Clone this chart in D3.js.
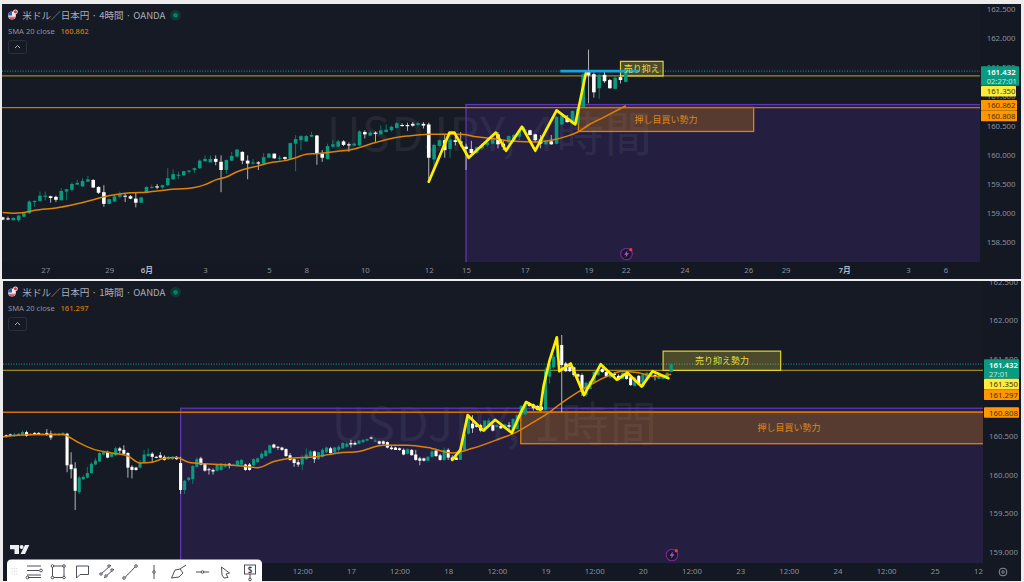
<!DOCTYPE html>
<html>
<head>
<meta charset="utf-8">
<script src="https://cdn.jsdelivr.net/npm/d3@7"></script>
<style>
html,body{margin:0;padding:0;background:#ececec;overflow:hidden}
svg{display:block}
text{font-family:"Noto Sans","Noto Sans CJK JP",sans-serif}
.jp{font-family:"Noto Sans CJK JP","Noto Sans",sans-serif}
</style>
</head>
<body>
<svg id="chart" width="1024" height="582"></svg>
<script>
// [open, high, low, close]
const h4Bars = [
[158.93,158.94,158.88,158.89],[158.91,158.94,158.88,158.90],[158.88,158.93,158.88,158.92],[158.88,158.97,158.85,158.96],[158.94,159.01,158.93,159.00],
[159.00,159.22,158.99,159.20],[159.19,159.22,159.11,159.21],[159.21,159.37,159.20,159.30],[159.28,159.37,159.22,159.30],[159.29,159.30,159.18,159.26],
[159.28,159.30,159.19,159.23],[159.22,159.43,159.22,159.38],[159.37,159.42,159.22,159.41],[159.40,159.53,159.37,159.50],[159.49,159.57,159.48,159.52],
[159.46,159.60,159.45,159.55],[159.54,159.64,159.53,159.58],[159.57,159.58,159.43,159.44],[159.45,159.46,159.33,159.35],[159.36,159.48,159.11,159.16],
[159.16,159.25,159.15,159.24],[159.20,159.31,159.19,159.29],[159.28,159.37,159.25,159.32],[159.30,159.34,159.19,159.29],[159.29,159.31,159.24,159.25],
[159.25,159.35,159.10,159.18],[159.18,159.28,159.18,159.27],[159.35,159.46,159.34,159.45],[159.44,159.49,159.42,159.45],[159.46,159.50,159.41,159.44],
[159.44,159.49,159.42,159.48],[159.48,159.77,159.46,159.60],[159.58,159.75,159.57,159.67],[159.64,159.71,159.58,159.66],[159.65,159.72,159.64,159.72],
[159.71,159.74,159.68,159.73],[159.74,159.78,159.69,159.77],[159.77,159.92,159.76,159.90],[159.89,159.99,159.88,159.93],[159.87,159.99,159.87,159.93],
[159.93,159.99,159.82,159.88],[159.88,159.99,159.36,159.74],[159.74,159.92,159.67,159.91],[159.90,160.05,159.89,159.98],[159.97,160.10,159.95,160.09],
[160.05,160.06,159.84,159.90],[159.90,159.99,159.58,159.85],[159.85,159.93,159.83,159.87],[159.87,159.89,159.74,159.85],[159.85,160.03,159.85,159.96],
[159.95,160.03,159.94,160.02],[160.02,160.02,159.93,159.94],[159.94,159.99,159.90,159.95],[159.96,159.97,159.91,159.93],[159.93,160.21,159.91,160.20],
[160.19,160.34,159.72,160.27],[160.25,160.34,160.08,160.32],[160.23,160.34,160.22,160.32],[160.31,160.39,160.30,160.34],[160.33,160.34,159.83,160.02],
[160.02,160.08,159.88,159.95],[159.93,160.19,159.92,160.15],[160.14,160.25,160.11,160.18],[160.14,160.26,160.13,160.23],[160.23,160.25,160.15,160.17],
[160.18,160.21,160.05,160.16],[160.16,160.21,160.14,160.19],[160.16,160.42,160.15,160.40],[160.39,160.42,160.28,160.35],[160.33,160.40,160.32,160.38],
[160.38,160.40,160.22,160.36],[160.35,160.50,160.35,160.42],[160.39,160.52,160.38,160.43],[160.42,160.50,160.40,160.48],[160.46,160.56,160.45,160.54],
[160.51,160.54,160.48,160.50],[160.51,160.55,160.41,160.49],[160.53,160.56,160.48,160.50],[160.51,160.57,160.49,160.54],[160.53,160.56,160.45,160.50],
[160.52,160.55,159.57,159.95],[159.92,160.19,159.73,160.17],[160.15,160.26,160.14,160.25],[160.25,160.36,159.95,160.08],[160.10,160.39,159.95,160.26],
[160.25,160.39,160.16,160.22],[160.23,160.39,160.14,160.19],[160.14,160.19,159.74,160.10],[160.10,160.24,159.99,160.03],[160.03,160.14,160.02,160.13],
[160.11,160.19,160.08,160.16],[160.17,160.25,160.14,160.21],[160.19,160.30,160.18,160.29],[160.35,160.39,160.11,160.18],[160.19,160.25,160.08,160.14],
[160.21,160.33,160.18,160.32],[160.23,160.36,160.22,160.34],[160.31,160.44,160.25,160.41],[160.39,160.48,160.36,160.44],[160.42,160.43,160.33,160.34],
[160.35,160.36,160.21,160.25],[160.26,160.34,160.11,160.19],[160.18,160.25,160.17,160.24],[160.23,160.34,160.17,160.18],[160.19,160.66,160.18,160.65],
[160.52,160.68,160.51,160.67],[160.63,160.68,160.55,160.56],[160.54,160.76,160.52,160.75],[160.54,160.82,160.52,160.79],[160.82,161.40,160.81,161.38],
[161.42,161.80,160.88,161.36],[161.38,161.41,160.98,161.07],[161.14,161.39,160.96,161.37],[161.37,161.42,161.23,161.26],[161.28,161.30,161.13,161.14],
[161.13,161.36,161.12,161.32],[161.33,161.37,161.22,161.28],[161.25,161.43,161.24,161.43]
];
const h1Bars = [
[160.48,160.51,160.47,160.50],[160.51,160.52,160.48,160.50],[160.52,160.53,160.50,160.50],[160.50,160.54,160.49,160.52],[160.51,160.54,160.50,160.53],
[160.52,160.57,160.51,160.55],[160.55,160.57,160.49,160.50],[160.51,160.54,160.50,160.53],[160.54,160.55,160.51,160.52],[160.54,160.55,160.51,160.52],
[160.51,160.54,160.51,160.53],[160.54,160.59,160.50,160.52],[160.53,160.57,160.45,160.48],[160.51,160.54,160.50,160.53],[160.51,160.54,160.50,160.53],
[160.51,160.55,160.51,160.54],[160.53,160.54,160.03,160.12],[160.13,160.29,159.95,160.07],[160.08,160.16,159.54,159.79],[159.77,159.98,159.75,159.96],
[159.94,159.99,159.93,159.97],[159.96,160.10,159.95,160.02],[160.02,160.16,160.01,160.14],[160.13,160.21,160.12,160.18],[160.17,160.29,160.16,160.28],
[160.26,160.30,160.25,160.29],[160.29,160.31,160.21,160.22],[160.23,160.28,160.22,160.27],[160.25,160.36,160.24,160.34],[160.34,160.36,160.27,160.31],
[160.32,160.38,160.26,160.27],[160.28,160.29,159.96,160.09],[160.10,160.12,159.95,160.06],[160.09,160.10,160.05,160.06],[160.09,160.19,160.08,160.15],
[160.16,160.32,160.15,160.26],[160.24,160.34,160.23,160.27],[160.27,160.29,160.16,160.23],[160.23,160.24,160.21,160.22],[160.25,160.29,160.21,160.22],
[160.23,160.25,160.18,160.19],[160.20,160.24,160.19,160.23],[160.20,160.24,160.19,160.23],[160.23,160.24,160.19,160.20],[160.15,160.23,159.75,159.80],
[159.80,159.93,159.75,159.92],[159.93,159.97,159.91,159.96],[159.94,160.12,159.88,160.11],[160.10,160.22,160.09,160.20],[160.21,160.23,160.12,160.13],
[160.14,160.15,160.04,160.05],[160.07,160.09,160.00,160.06],[160.06,160.08,160.00,160.04],[160.05,160.14,160.04,160.13],[160.06,160.15,160.05,160.14],
[160.10,160.15,160.09,160.13],[160.14,160.15,160.08,160.12],[160.12,160.14,160.11,160.13],[160.12,160.19,160.11,160.18],[160.13,160.20,160.12,160.19],
[160.13,160.14,160.05,160.06],[160.13,160.15,160.05,160.06],[160.12,160.21,160.11,160.20],[160.16,160.22,160.15,160.21],[160.21,160.29,160.20,160.27],
[160.24,160.32,160.23,160.31],[160.28,160.39,160.27,160.38],[160.39,160.40,160.34,160.35],[160.36,160.37,160.32,160.35],[160.35,160.36,160.31,160.32],
[160.33,160.34,160.23,160.24],[160.25,160.28,160.18,160.19],[160.20,160.21,160.10,160.15],[160.16,160.19,160.10,160.13],[160.13,160.25,160.06,160.21],
[160.20,160.34,160.19,160.26],[160.24,160.32,160.23,160.30],[160.30,160.31,160.15,160.20],[160.20,160.29,160.19,160.29],[160.23,160.34,160.22,160.32],
[160.29,160.36,160.28,160.35],[160.34,160.36,160.27,160.28],[160.29,160.36,160.28,160.35],[160.32,160.38,160.27,160.36],[160.34,160.42,160.33,160.41],
[160.36,160.42,160.35,160.40],[160.41,160.45,160.35,160.39],[160.41,160.43,160.38,160.39],[160.40,160.45,160.39,160.44],[160.42,160.46,160.41,160.45],
[160.44,160.47,160.43,160.46],[160.48,160.49,160.46,160.47],[160.43,160.46,160.42,160.44],[160.43,160.44,160.39,160.40],[160.43,160.44,160.39,160.40],
[160.42,160.43,160.34,160.35],[160.35,160.37,160.32,160.33],[160.35,160.36,160.32,160.32],[160.34,160.35,160.31,160.32],[160.32,160.34,160.25,160.26],
[160.27,160.34,160.26,160.33],[160.32,160.33,160.25,160.25],[160.26,160.32,160.18,160.19],[160.21,160.23,160.12,160.18],[160.21,160.22,160.17,160.18],
[160.18,160.24,160.17,160.23],[160.23,160.34,160.22,160.30],[160.31,160.32,160.23,160.24],[160.25,160.27,160.18,160.19],[160.19,160.35,160.18,160.32],
[160.32,160.34,160.19,160.22],[160.22,160.25,160.18,160.19],[160.22,160.25,160.19,160.19],[160.19,160.34,160.19,160.32],[160.32,160.55,160.31,160.53],
[160.53,160.79,160.52,160.77],[160.66,160.77,160.54,160.60],[160.64,160.65,160.61,160.62],[160.64,160.66,160.55,160.57],[160.57,160.70,160.55,160.70],
[160.62,160.73,160.60,160.70],[160.64,160.66,160.56,160.57],[160.62,160.65,160.61,160.64],[160.63,160.64,160.59,160.60],[160.60,160.66,160.59,160.65],
[160.64,160.68,160.57,160.62],[160.57,160.73,160.57,160.72],[160.59,160.78,160.58,160.77],[160.77,160.90,160.76,160.89],[160.78,160.92,160.77,160.91],
[160.92,160.94,160.88,160.89],[160.91,160.92,160.83,160.86],[160.89,160.90,160.83,160.84],[160.88,160.89,160.83,160.84],[160.84,161.39,160.83,161.36],
[161.27,161.46,161.18,161.44],[161.39,161.56,161.37,161.53],[161.52,161.70,161.50,161.68],[161.68,161.81,160.81,161.42],[161.44,161.46,161.33,161.34],
[161.40,161.42,161.33,161.34],[161.39,161.40,161.27,161.29],[161.30,161.31,161.24,161.27],[161.29,161.31,161.02,161.07],[161.03,161.20,161.01,161.19],
[161.11,161.22,161.11,161.21],[161.20,161.34,161.19,161.33],[161.29,161.36,161.28,161.35],[161.37,161.39,161.32,161.33],[161.33,161.34,161.26,161.27],
[161.26,161.33,161.25,161.33],[161.31,161.33,161.28,161.29],[161.28,161.30,161.22,161.23],[161.24,161.33,161.24,161.32],[161.30,161.31,161.23,161.24],
[161.26,161.27,161.15,161.16],[161.15,161.27,161.14,161.26],[161.28,161.29,161.16,161.17],[161.14,161.31,161.14,161.30],[161.24,161.33,161.24,161.32],
[161.27,161.33,161.27,161.32],[161.29,161.31,161.22,161.27],[161.24,161.32,161.24,161.30],[161.24,161.30,161.24,161.29],[161.25,161.33,161.24,161.32],
[161.33,161.44,161.33,161.43]
];
const h4SmaIndex = [0,2,4,6,10,13,17,19,22,24,27,31,36,38,40,42,44,46,48,50,53,55,57,59,63,66,70,73,76,80,83,86,89,92,96,100,103,106,108,110,113,117];
const h4SmaValue = [159.01,159.00,159.01,159.05,159.09,159.14,159.23,159.28,159.33,159.35,159.36,159.40,159.44,159.49,159.57,159.62,159.71,159.77,159.81,159.86,159.90,159.95,160.01,160.02,160.06,160.10,160.21,160.28,160.32,160.35,160.35,160.35,160.31,160.28,160.23,160.22,160.25,160.32,160.39,160.51,160.65,160.84];
const h1SmaIndex = [0,4,9,15,16,19,23,27,31,34,37,40,43,46,50,54,59,63,67,71,77,83,88,94,100,105,111,116,123,126,131,135,138,142,146,149,153,157,161,165];
const h1SmaValue = [160.49,160.51,160.52,160.52,160.50,160.41,160.32,160.28,160.24,160.15,160.16,160.21,160.22,160.16,160.14,160.13,160.11,160.09,160.17,160.21,160.23,160.28,160.30,160.38,160.38,160.35,160.28,160.34,160.47,160.53,160.68,160.81,160.93,161.07,161.19,161.27,161.34,161.32,161.27,161.30];
const h4WaveIndex = [80,83.9,84.8,87.5,92.6,94.5,97.5,100,104,107.5,109.5];
const h4WaveValue = [159.54,160.38,160.38,159.95,160.38,160.07,160.48,160.07,160.76,160.52,161.40];
const h1WaveIndex = [111,113,114.8,118.7,121.6,125.7,127.8,129.2,132.7,133.5,135,136.8,137.4,140.2,143.5,147.6,151.6,154.2,157.7,160.4,164.3];
const h1WaveValue = [160.19,160.32,160.77,160.57,160.71,160.54,160.79,160.94,160.84,161.14,161.48,161.78,161.34,161.44,161.03,161.43,161.23,161.32,161.14,161.34,161.25];
const h4PriceTicks = [162.5,162,161.5,161,160.5,160,159.5,159,158.5];
const h1PriceTicks = [162.5,162,161.5,161,160.5,160,159.5,159];
const h4TimeIndex = [8,20,27,38,50,57,68,80,87,98,110,117,128,140,147,158,170,177];
const h4TimeLabels = ["27","29","6月","3","5","8","10","12","15","17","19","22","24","26","29","7月","3","6"];
const h1TimeIndex = [74,86,98,110,122,134,146,158,170,182,194,206,218,230,242];
const h1TimeLabels = ["12:00","17","12:00","18","12:00","19","12:00","20","12:00","23","12:00","24","12:00","25","12:00"];
const currentPrice = 161.432, resistancePrice = 161.35, supportPrice = 160.808;
const h4SmaLast = 160.862, h1SmaLast = 161.297;
const purpleTop = 160.86, orangeTop = 160.81, orangeBottom = 160.40, yellowTop = 161.60, yellowBottom = 161.35;

const svg = d3.select("#chart");
const defs = svg.append("defs");

function drawPanel(o){
  const g = svg.append("g");
  const x = d3.scaleLinear().domain(o.xDomain).range([o.xStart, o.plotRight + (o.xExtra||0)]);
  const y = d3.scaleLinear().domain(o.yDomain).range(o.yRange);
  const clipId = "clip"+o.id;
  defs.append("clipPath").attr("id",clipId).append("rect").attr("x",o.left).attr("y",o.top).attr("width",o.plotRight-o.left).attr("height",o.plotBottom-o.top);
  const panelClip = "panel"+o.id;
  defs.append("clipPath").attr("id",panelClip).append("rect").attr("x",o.left).attr("y",o.top).attr("width",o.right-o.left).attr("height",o.bottom-o.top);

  g.append("rect").attr("x",o.left).attr("y",o.top).attr("width",o.right-o.left).attr("height",o.bottom-o.top).attr("fill","#141823");
  g.append("rect").attr("x",o.left).attr("y",o.top).attr("width",o.plotRight-o.left).attr("height",o.plotBottom-o.top).attr("fill","#161a25");

  const plot = g.append("g").attr("clip-path",`url(#${clipId})`);
  plot.append("text").attr("class","jp").attr("x",o.wmX).attr("y",o.wmY).attr("text-anchor","middle")
    .attr("font-size",47).attr("letter-spacing",1.5).attr("fill","#fff").attr("fill-opacity",0.075).text(o.watermark);

  // zones
  plot.append("rect").attr("x",x(o.purpleFrom)).attr("y",y(purpleTop)).attr("width",o.plotRight+10-x(o.purpleFrom)).attr("height",o.plotBottom+10-y(purpleTop))
    .attr("fill","#5e35b1").attr("fill-opacity",0.2).attr("stroke","#5e35b1").attr("stroke-width",1.3);
  plot.append("rect").attr("x",x(o.orangeFrom)).attr("y",y(orangeTop)).attr("width",(o.orangeTo?x(o.orangeTo):o.plotRight+10)-x(o.orangeFrom)).attr("height",y(orangeBottom)-y(orangeTop))
    .attr("fill","#ff9800").attr("fill-opacity",0.24).attr("stroke","#e07f0c").attr("stroke-width",1.3);

  // horizontal price lines
  const hline = (p,c,w)=>plot.append("line").attr("x1",o.left).attr("x2",o.plotRight).attr("y1",y(p)).attr("y2",y(p)).attr("stroke",c).attr("stroke-width",w);
  hline(supportPrice,"#d0740a",1.4);
  hline(resistancePrice,"#9a8820",1.3);
  hline(currentPrice,"#1f7f8c",1.2).attr("stroke-dasharray","1 1.6");

  plot.append("rect").attr("x",x(o.yellowFrom)).attr("y",y(yellowTop)).attr("width",x(o.yellowTo)-x(o.yellowFrom)).attr("height",y(yellowBottom)-y(yellowTop))
    .attr("fill","#ffeb3b").attr("fill-opacity",0.23).attr("stroke","#e3d22e").attr("stroke-width",1.2);

  // candles
  const bars = o.bars.map((r,i)=>({i,open:r[0],high:r[1],low:r[2],close:r[3]}));
  const cg = plot.append("g");
  const col = d=>d.close>=d.open?"#0a9a80":"#ffffff";
  cg.selectAll("line").data(bars).join("line")
    .attr("x1",d=>x(d.i)).attr("x2",d=>x(d.i)).attr("y1",d=>y(d.high)).attr("y2",d=>y(d.low))
    .attr("stroke",col).attr("stroke-width",0.9).attr("stroke-opacity",d=>d.close>=d.open?0.8:0.75);
  cg.selectAll("rect").data(bars).join("rect")
    .attr("x",d=>x(d.i)-o.bodyW/2).attr("width",o.bodyW)
    .attr("y",d=>y(Math.max(d.open,d.close))).attr("height",d=>Math.max(1,Math.abs(y(d.open)-y(d.close))))
    .attr("fill",col);

  // SMA
  const smaPts = d3.zip(o.smaIndex,o.smaValue);
  plot.append("path").attr("d",d3.line().x(d=>x(d[0])).y(d=>y(d[1])).curve(d3.curveMonotoneX)(smaPts))
    .attr("fill","none").attr("stroke","#dd8208").attr("stroke-width",1.5);

  // wave
  const wavePts = d3.zip(o.waveIndex,o.waveValue);
  plot.append("path").attr("d",d3.line().x(d=>x(d[0])).y(d=>y(d[1]))(wavePts))
    .attr("fill","none").attr("stroke","#ffee00").attr("stroke-width",o.waveW).attr("stroke-linejoin","round").attr("stroke-linecap","round");

  if(o.blue){
    plot.append("line").attr("x1",x(o.blue[0])).attr("x2",x(o.blue[1])).attr("y1",y(currentPrice)).attr("y2",y(currentPrice)).attr("stroke","#18a4e0").attr("stroke-width",2.6);
  }

  // zone labels
  plot.append("text").attr("class","jp").attr("x",o.orangeLabelX).attr("y",(y(orangeTop)+y(orangeBottom))/2+3.2)
    .attr("text-anchor","middle").attr("font-size",9).attr("fill","#dd861b").text("押し目買い勢力");
  plot.append("text").attr("class","jp").attr("x",(x(o.yellowFrom)+x(o.yellowTo))/2).attr("y",(y(yellowTop)+y(yellowBottom))/2+3.2)
    .attr("text-anchor","middle").attr("font-size",o.yellowFs).attr("fill","#eadb3c").text(o.yellowLabel);

  // lightning badge
  const b = plot.append("g").attr("transform",`translate(${o.bolt[0]},${o.bolt[1]})`);
  b.append("circle").attr("r",5.8).attr("fill","#1c1830").attr("stroke","#7a2a8c").attr("stroke-width",1.1);
  b.append("path").attr("d","M1 -3.4 L-2.4 0.7 L-0.3 0.7 L-1 3.4 L2.4 -0.8 L0.3 -0.8 Z").attr("fill","#a65ad0");
  b.append("circle").attr("cx",4.3).attr("cy",-4.3).attr("r",1.6).attr("fill","#f23645");

  // axes
  const yAxis = d3.axisRight(y).tickValues(o.priceTicks).tickFormat(d3.format(".3f")).tickSize(0).tickPadding(o.yPad);
  const ya = g.append("g").attr("clip-path",`url(#${panelClip})`).append("g").attr("transform",`translate(${o.plotRight},0)`).call(yAxis);
  ya.select(".domain").remove();
  ya.selectAll("text").attr("font-size",7.8).attr("fill","#8b8f9a").attr("font-family",'"Noto Sans",sans-serif');

  defs.append("clipPath").attr("id","time"+o.id).append("rect").attr("x",o.left).attr("y",o.plotBottom).attr("width",o.plotRight-o.left).attr("height",o.bottom-o.plotBottom);
  const labelByIndex = new Map(d3.zip(o.timeIndex,o.timeLabels));
  const xAxis = d3.axisBottom(x).tickValues(o.timeIndex).tickFormat(d=>labelByIndex.get(d)).tickSize(0).tickPadding(o.xPad);
  const xa = g.append("g").attr("clip-path",`url(#time${o.id})`).append("g").attr("transform",`translate(0,${o.plotBottom})`).call(xAxis);
  xa.select(".domain").remove();
  xa.selectAll("text").attr("font-size",7.8).attr("fill",d=>/月/.test(labelByIndex.get(d))?"#b8bbc4":"#8b8f9a").attr("font-weight",d=>/月/.test(labelByIndex.get(d))?600:400).attr("font-family",'"Noto Sans","Noto Sans CJK JP",sans-serif');

  // price tags
  const tg = g.append("g");
  o.tags.forEach(t=>{
    tg.append("rect").attr("x",o.plotRight+1).attr("y",t.y0).attr("width",t.w).attr("height",t.y1-t.y0).attr("fill",t.fill).attr("rx",0.8);
    tg.append("text").attr("x",o.plotRight+o.yPad).attr("y",t.ty).attr("font-size",7.8).attr("fill",t.color).attr("font-weight",t.bold?600:400).text(d3.format(".3f")(t.value));
    if(t.sub) tg.append("text").attr("x",o.plotRight+o.yPad).attr("y",t.ty+9).attr("font-size",7.6).attr("fill","#bfe9df").text(t.sub);
  });

  // header
  const h = g.append("g").attr("transform",`translate(0,${o.headY})`);
  h.append("circle").attr("cx",12).attr("cy",15.5).attr("r",3.9).attr("fill","#e9e9ee");
  h.append("path").attr("d","M8.1 15.5 A3.9 3.9 0 0 1 12 11.6 L12 15.5 Z").attr("fill","#2f5fb3");
  h.append("path").attr("d","M8.6 17.3 H15.4 M9.6 18.6 H14.4").attr("stroke","#d8364a").attr("stroke-width",0.9);
  h.append("circle").attr("cx",15.4).attr("cy",11.8).attr("r",2.4).attr("fill","#e9e9ee");
  h.append("circle").attr("cx",15.4).attr("cy",11.8).attr("r",1.5).attr("fill","#d8364a");
  h.append("text").attr("class","jp").attr("x",22.3).attr("y",19.2).attr("font-size",9.6).attr("fill","#a9acb6").text(o.title);
  h.append("circle").attr("cx",175.5).attr("cy",15.3).attr("r",5.3).attr("fill","#0b3a35");
  h.append("circle").attr("cx",175.5).attr("cy",15.3).attr("r",2.4).attr("fill","#0a7d68");
  h.append("text").attr("x",8).attr("y",34.2).attr("font-size",7.6).attr("fill","#8f93a0").text("SMA 20 close");
  h.append("text").attr("x",60.5).attr("y",34.2).attr("font-size",7.6).attr("font-weight",500).attr("fill","#cf7a0c").text(d3.format(".3f")(o.smaLast));
  h.append("rect").attr("x",8.5).attr("y",40.5).attr("width",18).attr("height",13).attr("rx",2).attr("fill","none").attr("stroke","#2b2f3b");
  h.append("path").attr("d","M15 48 L17.5 45.5 L20 48").attr("fill","none").attr("stroke","#a9acb6").attr("stroke-width",1);
}

drawPanel({id:"A",left:2,top:4,right:1021,bottom:279,plotRight:980,plotBottom:262,
  xDomain:[0,183.5],xStart:2.67,xExtra:0,yDomain:[162,158.5],yRange:[38,242.4],
  bars:h4Bars,bodyW:3.6,smaIndex:h4SmaIndex,smaValue:h4SmaValue,waveIndex:h4WaveIndex,waveValue:h4WaveValue,waveW:2.7,
  priceTicks:h4PriceTicks,timeIndex:h4TimeIndex,timeLabels:h4TimeLabels,yPad:6.7,xPad:5,
  purpleFrom:87,orangeFrom:108.1,orangeTo:141,orangeLabelX:666,yellowFrom:116,yellowTo:124,yellowLabel:"売り抑え",yellowFs:9,
  blue:[104.7,119.4],bolt:[626.5,254],wmX:490,wmY:151,watermark:"USDJPY, 4時間",
  title:"米ドル／日本円 · 4時間 · OANDA",smaLast:h4SmaLast,headY:0,
  tags:[
   {value:currentPrice,y0:66.3,y1:85.8,w:38,fill:"#0a9a80",color:"#fff",ty:74.5,sub:"02:27:01",bold:true},
   {value:resistancePrice,y0:86,y1:96.6,w:35,fill:"#ffeb3b",color:"#3a3510",ty:94},
   {value:h4SmaLast,y0:100,y1:110.6,w:36,fill:"#ff9800",color:"#4a2e00",ty:108},
   {value:supportPrice,y0:110.6,y1:121.2,w:36,fill:"#ff9800",color:"#4a2e00",ty:118.9}
  ]});

drawPanel({id:"B",left:3,top:281,right:1021,bottom:581,plotRight:983,plotBottom:563,
  xDomain:[0,241.9],xStart:2.2,xExtra:0,yDomain:[162,159],yRange:[320.3,551.7],
  bars:h1Bars,bodyW:3.1,smaIndex:h1SmaIndex,smaValue:h1SmaValue,waveIndex:h1WaveIndex,waveValue:h1WaveValue,waveW:2.7,
  priceTicks:h1PriceTicks,timeIndex:h1TimeIndex,timeLabels:h1TimeLabels,yPad:6,xPad:5.8,
  purpleFrom:44,orangeFrom:127.9,orangeTo:null,orangeLabelX:789,yellowFrom:163,yellowTo:192,yellowLabel:"売り抑え勢力",yellowFs:9,
  bolt:[672,555],wmX:495,wmY:441,watermark:"USDJPY, 1時間",
  title:"米ドル／日本円 · 1時間 · OANDA",smaLast:h1SmaLast,headY:277,
  tags:[
   {value:currentPrice,y0:359.3,y1:378.7,w:35,fill:"#0a9a80",color:"#fff",ty:367.5,sub:"27:01",bold:true},
   {value:resistancePrice,y0:378.7,y1:389.3,w:35,fill:"#ffeb3b",color:"#3a3510",ty:387},
   {value:h1SmaLast,y0:389.3,y1:400,w:35,fill:"#ff9800",color:"#4a2e00",ty:397.5},
   {value:supportPrice,y0:407.3,y1:417.7,w:35,fill:"#ff9800",color:"#4a2e00",ty:415.5}
  ]});

// TradingView logo
const logo = svg.append("g").attr("fill","#eceef2");
logo.append("path").attr("d","M10 545 H19 V554 H14.5 V549.2 H10 Z");
logo.append("circle").attr("cx",21.6).attr("cy",547).attr("r",2);
logo.append("path").attr("d","M25 545 H29.3 L25 554 H20.6 Z");

// gear
const gear = svg.append("g").attr("transform","translate(1003,572)");
gear.append("circle").attr("r",3.9).attr("fill","none").attr("stroke","#8b8f9a").attr("stroke-width",1);
gear.append("circle").attr("r",1.3).attr("fill","none").attr("stroke","#8b8f9a").attr("stroke-width",0.9);

// drawing toolbar
const tb = svg.append("g");
tb.append("path").attr("d","M7 582 V564 Q7 559.5 11.5 559.5 H257.5 Q262 559.5 262 564 V582 Z").attr("fill","#fff");
const ink = tb.append("g").attr("fill","none").attr("stroke","#3a3d46").attr("stroke-width",0.9);
for(let r=0;r<3;r++)for(let c=0;c<3;c++)tb.append("circle").attr("cx",12+c*2.4).attr("cy",568.5+r*2.6).attr("r",0.55).attr("fill","#c9cbd1");
ink.append("path").attr("d","M27 566 H41 M27 570.5 H39 M27 575 H41 M28 577.5 H41");
ink.append("circle").attr("cx",41).attr("cy",570.5).attr("r",1.4);
ink.append("circle").attr("cx",27.5).attr("cy",577.5).attr("r",1.4);
ink.append("rect").attr("x",52.5).attr("y",566).attr("width",11.5).attr("height",11.5);
[[52.5,566],[64,566],[52.5,577.5],[64,577.5]].forEach(p=>ink.append("circle").attr("cx",p[0]).attr("cy",p[1]).attr("r",1.3).attr("fill","#fff"));
ink.append("path").attr("d","M76.5 566 H88.5 V574.5 H80 L76.5 578 Z");
ink.append("path").attr("d","M100 575 L111 565 M104 578 L114 569");
[[101,574],[109,566],[106,576],[112,570]].forEach(p=>ink.append("circle").attr("cx",p[0]).attr("cy",p[1]).attr("r",1.2).attr("fill","#fff"));
ink.append("path").attr("d","M124.5 578 L136 566");
[[124,578],[136,566]].forEach(p=>ink.append("circle").attr("cx",p[0]).attr("cy",p[1]).attr("r",1.3).attr("fill","#fff"));
ink.append("path").attr("d","M154 565 V579");
ink.append("circle").attr("cx",154).attr("cy",572).attr("r",1.3).attr("fill","#fff");
ink.append("path").attr("d","M171.5 578 L175 570 L180 569 L183 573 L179 577 Z M180 569 L186 565");
ink.append("path").attr("d","M196 572 H209");
ink.append("circle").attr("cx",202.5).attr("cy",572).attr("r",1.3).attr("fill","#fff");
ink.append("path").attr("d","M221.5 567 L229.5 573 L226 574 L228 577.5 L224 578 L222 575 Z");
ink.append("rect").attr("x",244.5).attr("y",565).attr("width",11).attr("height",9);
ink.append("path").attr("d","M250 574 V579");
ink.append("circle").attr("cx",250).attr("cy",579.5).attr("r",1.3).attr("fill","#fff");
tb.append("text").attr("x",250).attr("y",572.6).attr("text-anchor","middle").attr("font-size",8).attr("font-weight",600).attr("fill","#3a3d46").text("$");
</script>
</body>
</html>
